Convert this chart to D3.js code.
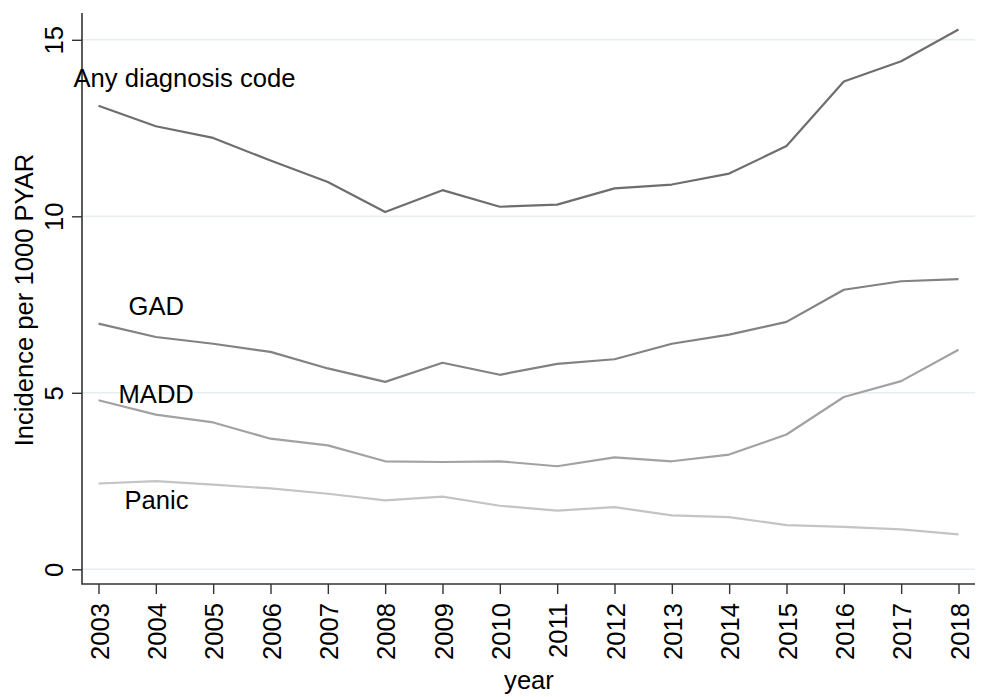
<!DOCTYPE html>
<html>
<head>
<meta charset="utf-8">
<script src="https://cdn.jsdelivr.net/npm/d3@7"></script>
<style>
  body { margin: 0; background: #fff; }
  svg { display: block; }
</style>
</head>
<body>
<div id="chart"></div>
<script>
// data
const years = [2003, 2004, 2005, 2006, 2007, 2008, 2009, 2010, 2011, 2012, 2013, 2014, 2015, 2016, 2017, 2018];
const anyCode = [13.13, 12.55, 12.22, 11.58, 10.97, 10.12, 10.74, 10.27, 10.33, 10.79, 10.90, 11.21, 11.99, 13.82, 14.39, 15.29];
const gad     = [6.96, 6.58, 6.39, 6.16, 5.69, 5.31, 5.85, 5.51, 5.82, 5.95, 6.39, 6.65, 7.01, 7.92, 8.16, 8.22];
const madd    = [4.79, 4.38, 4.16, 3.70, 3.51, 3.06, 3.04, 3.06, 2.92, 3.17, 3.06, 3.25, 3.82, 4.88, 5.33, 6.22];
const panic   = [2.43, 2.50, 2.40, 2.29, 2.14, 1.95, 2.06, 1.80, 1.66, 1.76, 1.53, 1.48, 1.25, 1.20, 1.13, 0.99];
const seriesNames = ['Any diagnosis code', 'GAD', 'MADD', 'Panic'];
const yTicks = [0, 5, 10, 15];

const opt = {
  width: 987, height: 697,
  top: 13, right: 12, bottom: 113, left: 82,
  font: '"Liberation Sans", Arial, Helvetica, sans-serif',
  fontSize: 25.6,
  colors: ['#6e6e6e', '#828282', '#a2a2a2', '#c4c4c4'],
  // label offsets from the first point of each line
  labelOffset: [[-25, -19], [30, -9], [20, 3], [26, 25]]
};

function drawChart() {
  const { width, height, top, right, bottom, left } = opt;
  const innerW = width - left - right;
  const innerH = height - top - bottom;

  const series = [anyCode, gad, madd, panic].map((vals, i) => ({
    name: seriesNames[i],
    values: vals.map((v, j) => ({ year: years[j], v }))
  }));

  // scales
  const x = d3.scaleLinear()
    .domain([2003, 2018])
    .range([16.5, 876.5]);
  const y = d3.scaleLinear()
    .domain([0, 15])
    .range([556.3, 26.8]);

  const svg = d3.select('#chart').append('svg')
    .attr('width', width)
    .attr('height', height)
    .attr('viewBox', [0, 0, width, height])
    .style('font-family', opt.font);

  const g = svg.append('g').attr('transform', `translate(${left}, ${top})`);

  // grid lines
  g.append('g')
    .selectAll('line')
    .data(yTicks)
    .join('line')
    .attr('x1', 0)
    .attr('x2', innerW)
    .attr('y1', d => y(d))
    .attr('y2', d => y(d))
    .attr('stroke', '#e6eef1')
    .attr('stroke-width', 1.6);

  // y axis
  const yAxis = d3.axisLeft(y).tickValues(yTicks).tickSize(10).tickSizeOuter(0);
  g.append('g')
    .call(yAxis)
    .call(a => a.select('.domain').remove())
    .call(a => a.selectAll('.tick line').attr('stroke', '#333').attr('stroke-width', 1.4))
    .call(a => a.selectAll('.tick text')
      .attr('transform', 'translate(-19, 0) rotate(-90)')
      .attr('x', 0).attr('y', 0).attr('dy', 0)
      .attr('text-anchor', 'middle')
      .attr('fill', '#000')
      .style('font-size', opt.fontSize + 'px'));

  // x axis
  const xAxis = d3.axisBottom(x).tickValues(years).tickFormat(d3.format('d')).tickSize(10).tickSizeOuter(0);
  g.append('g')
    .attr('transform', `translate(0, ${innerH})`)
    .call(xAxis)
    .call(a => a.select('.domain').remove())
    .call(a => a.selectAll('.tick line').attr('stroke', '#333').attr('stroke-width', 1.4))
    .call(a => a.selectAll('.tick text')
      .attr('transform', 'translate(9.5, 19) rotate(-90)')
      .attr('x', 0).attr('y', 0).attr('dy', 0)
      .attr('text-anchor', 'end')
      .attr('fill', '#000')
      .style('font-size', opt.fontSize + 'px'));

  // axis lines
  g.append('path')
    .attr('d', `M0,0V${innerH}H${innerW}`)
    .attr('fill', 'none')
    .attr('stroke', '#333')
    .attr('stroke-width', 1.6);

  // lines
  const line = d3.line().x(d => x(d.year)).y(d => y(d.v));
  g.append('g')
    .selectAll('path')
    .data(series)
    .join('path')
    .attr('d', d => line(d.values))
    .attr('fill', 'none')
    .attr('stroke', (d, i) => opt.colors[i])
    .attr('stroke-width', 2.2)
    .attr('stroke-linejoin', 'round');

  // line labels
  g.append('g')
    .selectAll('text')
    .data(series)
    .join('text')
    .attr('x', (d, i) => x(d.values[0].year) + opt.labelOffset[i][0])
    .attr('y', (d, i) => y(d.values[0].v) + opt.labelOffset[i][1])
    .attr('fill', '#000')
    .style('font-size', opt.fontSize + 'px')
    .text(d => d.name);

  // axis titles
  svg.append('text')
    .attr('transform', 'translate(33, 300) rotate(-90)')
    .attr('text-anchor', 'middle')
    .style('font-size', opt.fontSize + 'px')
    .text('Incidence per 1000 PYAR');

  svg.append('text')
    .attr('x', 529)
    .attr('y', 689)
    .attr('text-anchor', 'middle')
    .style('font-size', opt.fontSize + 'px')
    .text('year');
}

drawChart();
</script>
</body>
</html>
